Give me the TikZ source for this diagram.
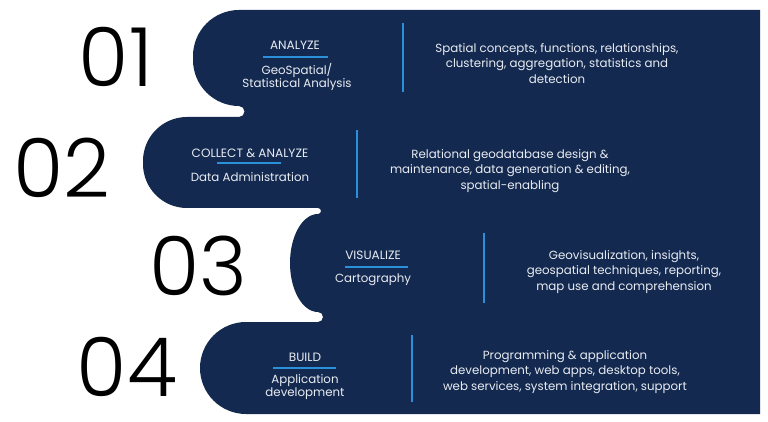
\documentclass[tikz,border=0pt]{standalone}
\usepackage{fontspec}
\setmainfont{Poppins}
\newfontfamily\numfont{Poppins Light}
\definecolor{navy}{HTML}{14294F}
\definecolor{lineblue}{HTML}{2B8FD9}
\definecolor{paletext}{HTML}{E8ECF2}
\tikzset{
  bignum/.style={font=\numfont\fontsize{58}{58}\selectfont, text=black, inner sep=0pt},
  head/.style={font=\fontsize{8.6}{10}\selectfont, text=paletext},
  subhead/.style={font=\fontsize{8.4}{9}\selectfont, text=paletext, align=center},
  desc/.style={font=\fontsize{8.4}{11}\selectfont, text=paletext, align=center},
  sepline/.style={lineblue, line width=1.6},
  uline/.style={lineblue, line width=1.2},
}
\begin{document}
\begin{tikzpicture}[x=0.025cm, y=0.025cm]
            \useasboundingbox (0,0) rectangle (768,421);

            % forma de fondo
            \fill[navy] (760,411) -- (239,411) arc[start angle=90, end angle=180, radius=46]
                -- (193,361) arc[start angle=180, end angle=270, radius=46]
                arc[start angle=90, end angle=-90, radius=5.5]
                -- (187,304) arc[start angle=90, end angle=180, radius=44]
                -- (143,257) arc[start angle=180, end angle=270, radius=44]
                -- (318,213) arc[start angle=90, end angle=-90, radius=3]
                arc[start angle=90, end angle=270, x radius=28, y radius=49]
                arc[start angle=90, end angle=-90, radius=5]
                -- (246,99) arc[start angle=90, end angle=270, radius=46]
                -- (760,7) -- cycle;

            \node[bignum] (n1) at (116,364) {01};
            \node[bignum] (n2) at (62,253) {02};
            \node[bignum] (n3) at (198,155) {03};
            \node[bignum] (n4) at (127,54) {04};

            \node[head] (h1) at (295,376) {ANALYZE};
            \draw[uline] (263,364) -- (328,364);
            \node[subhead] (s1) at (297,344) {GeoSpatial/\\Statistical Analysis};
            \draw[sepline] (403,398) -- (403,329);
            \node[desc] (d1) at (557,357.5) {Spatial concepts, functions, relationships,\\clustering, aggregation, statistics and\\detection};

            \node[head] (h2) at (250,268) {COLLECT \& ANALYZE};
            \draw[uline] (217,258) -- (281,258);
            \node[subhead] (s2) at (250,244) {Data Administration};
            \draw[sepline] (357,291) -- (357,223);
            \node[desc] (d2) at (510,250) {Relational geodatabase design \&\\maintenance, data generation \& editing,\\spatial-enabling};

            \node[head] (h3) at (373,166) {VISUALIZE};
            \draw[uline] (345,154) -- (408,154);
            \node[subhead] (s3) at (373,141) {Cartography};
            \draw[sepline] (484,188) -- (484,118);
            \node[desc] (d3) at (624,149) {Geovisualization, insights,\\geospatial techniques, reporting,\\map use and comprehension};

            \node[head] (h4) at (305,64) {BUILD};
            \draw[uline] (273,53) -- (336,53);
            \node[subhead] (s4) at (305,34) {Application\\development};
            \draw[sepline] (412,86) -- (412,19);
            \node[desc] (d4) at (565,49) {Programming \& application\\development, web apps, desktop tools,\\web services, system integration, support};
\end{tikzpicture}
\end{document}
